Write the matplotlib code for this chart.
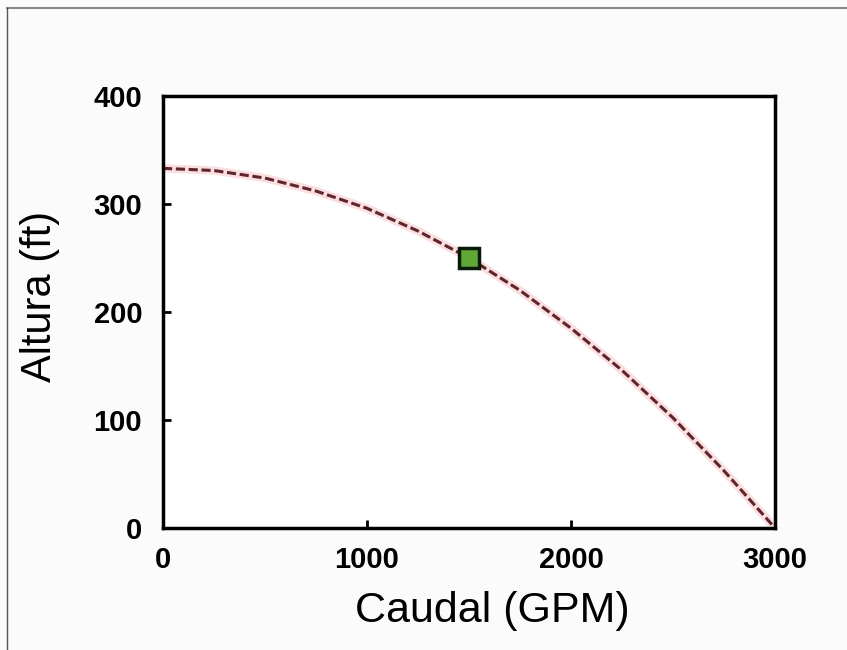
import numpy as np
from matplotlib import pyplot as plt
from matplotlib.lines import Line2D

# pump curve
caudal = [0, 250, 500, 750, 1000, 1250, 1500, 1750, 2000, 2250, 2500, 2750, 3000]
altura = [333, 331, 324, 312, 296, 275, 250, 220, 185, 146, 102, 53, 0]

# operating point
punto_q = [1500]
punto_h = [250]

xticks = [0, 1000, 2000, 3000]
yticks = [0, 100, 200, 300, 400]

fig = plt.figure(figsize=(8.47, 6.5), dpi=100, facecolor='#fbfbfb')
ax = fig.add_axes([163/847, 1 - 528/650, 612/847, 432/650])
ax.set_facecolor('white')

# soft pink glow under the line
ax.plot(caudal, altura, color='#f7c8cc', lw=6, alpha=0.6, solid_capstyle='round')
ax.plot(caudal, altura, color='#5e262c', lw=2.2, ls=(0, (3, 1.2)))
ax.plot(punto_q, punto_h, ls='none', marker='s', ms=14, mfc='#5fa838',
	mec='#0a1a0a', mew=2.5)

ax.set_xlim(0, 3000)
ax.set_ylim(0, 400)
ax.set_xticks(xticks)
ax.set_yticks(yticks)
for s in ax.spines.values():
	s.set_linewidth(2.5)
	s.set_color('black')
ax.tick_params(direction='in', length=6, width=2)
ax.tick_params(axis='y', pad=15)
ax.tick_params(axis='x', pad=13)
for lab in ax.get_xticklabels() + ax.get_yticklabels():
	lab.set_fontfamily('Liberation Sans')
	lab.set_fontweight('bold')
	lab.set_fontsize(21)

ax.set_xlabel('Caudal (GPM)', fontfamily='Liberation Sans', fontsize=31)
ax.set_ylabel('Altura (ft)', fontfamily='Liberation Sans', fontsize=30)
ax.xaxis.set_label_coords(0.5376, -0.145)
ax.yaxis.set_label_coords(-0.168, 0.535)

# gray frame lines at top and left of the picture
fig.add_artist(Line2D([7/847, 1], [1 - 8/650, 1 - 8/650], color='#888888', lw=1.5,
	transform=fig.transFigure))
fig.add_artist(Line2D([7/847, 7/847], [0, 1 - 8/650], color='#555555', lw=1,
	transform=fig.transFigure))

fig.savefig('out.png', dpi=100, facecolor=fig.get_facecolor())
